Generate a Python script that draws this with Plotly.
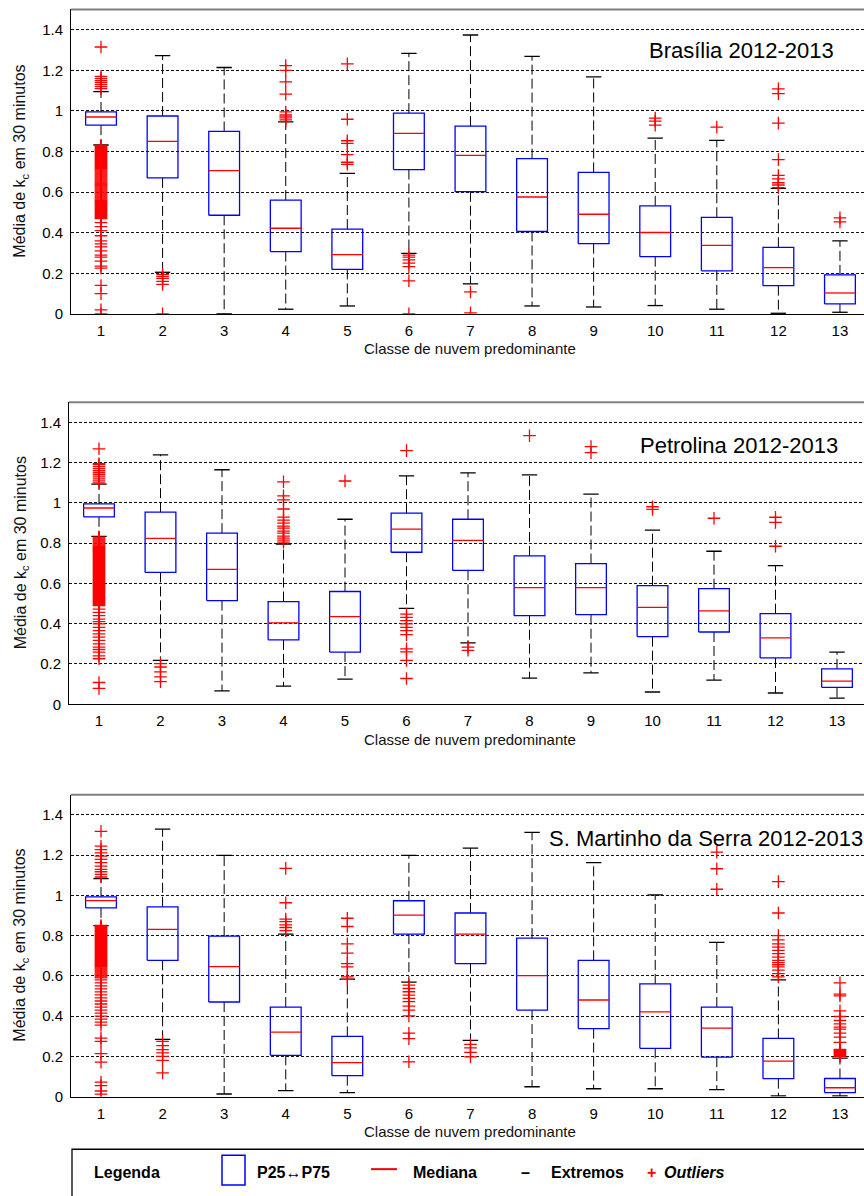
import plotly.graph_objects as go

classes = list(range(1, 13 + 1))
tick_labels = [str(c) for c in classes]
station_titles = ["Brasília 2012-2013", "Petrolina 2012-2013", "S. Martinho da Serra 2012-2013"]
x_title = "Classe de nuvem predominante"
y_title = "Média de k<sub>c</sub> em 30 minutos"

# ---------------- Brasília ----------------
bsb_lo = [0.832, 0.205, 0.0, 0.023, 0.039, 0.298, 0.148, 0.039, 0.034, 0.041, 0.023, 0.003, 0.008]
bsb_q1 = [0.930, 0.670, 0.486, 0.307, 0.219, 0.711, 0.602, 0.406, 0.346, 0.282, 0.212, 0.139, 0.049]
bsb_med = [0.970, 0.850, 0.706, 0.422, 0.292, 0.889, 0.781, 0.576, 0.491, 0.401, 0.338, 0.228, 0.103]
bsb_q3 = [0.995, 0.975, 0.899, 0.561, 0.418, 0.989, 0.925, 0.765, 0.697, 0.532, 0.476, 0.328, 0.192]
bsb_hi = [1.095, 1.272, 1.214, 0.946, 0.692, 1.284, 1.374, 1.269, 1.168, 0.866, 0.855, 0.618, 0.360]
# dense (solid-looking) band of low outliers in class 1
bsb_c1_band = [0.83, 0.825, 0.82, 0.815, 0.81, 0.805, 0.80, 0.795, 0.79, 0.785, 0.78, 0.775,
               0.77, 0.765, 0.76, 0.755, 0.75, 0.745, 0.74, 0.735, 0.73, 0.725, 0.72, 0.715,
               0.71, 0.705, 0.70, 0.695, 0.69, 0.685, 0.68, 0.675, 0.67, 0.665, 0.66, 0.655,
               0.65, 0.645, 0.64, 0.635, 0.63, 0.625, 0.62, 0.615, 0.61, 0.605, 0.60, 0.595,
               0.59, 0.585, 0.58, 0.575, 0.57, 0.565, 0.56, 0.555, 0.55, 0.545, 0.54, 0.535,
               0.53, 0.525, 0.52, 0.515, 0.51, 0.505, 0.50, 0.495, 0.49, 0.485, 0.48, 0.475, 0.47]
bsb_out = [
    [1.315, 1.17, 1.16, 1.15, 1.14, 1.13, 1.12, 1.11] + bsb_c1_band +
    [0.45, 0.43, 0.41, 0.385, 0.36, 0.345, 0.33, 0.31, 0.29, 0.28, 0.26, 0.235, 0.225,
     0.14, 0.10, 0.02, 0.0],
    [0.195, 0.185, 0.175, 0.16, 0.145, 0.0],
    [],
    [1.223, 1.20, 1.143, 1.083, 0.995, 0.98, 0.97, 0.96, 0.95],
    [1.232, 0.959, 0.853, 0.84, 0.785, 0.747, 0.737],
    [0.29, 0.28, 0.266, 0.25, 0.233, 0.163, 0.0],
    [0.108, 0.005],
    [],
    [],
    [0.965, 0.95, 0.93],
    [0.92],
    [1.109, 1.085, 0.94, 0.76, 0.682, 0.665, 0.646, 0.635, 0.622],
    [0.473, 0.453],
]

# ---------------- Petrolina ----------------
ptr_lo = [0.834, 0.218, 0.066, 0.090, 0.125, 0.476, 0.305, 0.130, 0.156, 0.061, 0.120, 0.056, 0.030]
ptr_q1 = [0.931, 0.655, 0.515, 0.320, 0.259, 0.755, 0.665, 0.440, 0.445, 0.336, 0.359, 0.230, 0.084]
ptr_med = [0.975, 0.824, 0.670, 0.404, 0.435, 0.870, 0.814, 0.579, 0.579, 0.481, 0.464, 0.330, 0.115]
ptr_q3 = [0.995, 0.954, 0.850, 0.510, 0.560, 0.949, 0.919, 0.737, 0.699, 0.589, 0.574, 0.450, 0.176]
ptr_hi = [1.093, 1.239, 1.165, 0.796, 0.919, 1.134, 1.149, 1.139, 1.044, 0.865, 0.760, 0.689, 0.259]
ptr_c1_band = [0.83, 0.825, 0.82, 0.815, 0.81, 0.805, 0.80, 0.795, 0.79, 0.785, 0.78, 0.775,
               0.77, 0.765, 0.76, 0.755, 0.75, 0.745, 0.74, 0.735, 0.73, 0.725, 0.72, 0.715,
               0.71, 0.705, 0.70, 0.695, 0.69, 0.685, 0.68, 0.675, 0.67, 0.665, 0.66, 0.655,
               0.65, 0.645, 0.64, 0.635, 0.63, 0.625, 0.62, 0.615, 0.61, 0.605, 0.60, 0.595,
               0.59, 0.585, 0.58, 0.575, 0.57, 0.565, 0.56, 0.555, 0.55, 0.545, 0.54, 0.535,
               0.53, 0.525, 0.52, 0.515, 0.51, 0.505, 0.50, 0.495, 0.49]
ptr_out = [
    [1.269, 1.195, 1.19, 1.18, 1.17, 1.16, 1.15, 1.14, 1.13, 1.12, 1.11, 1.10] + ptr_c1_band +
    [0.473, 0.456, 0.44, 0.423, 0.41, 0.399, 0.382, 0.366, 0.35, 0.333, 0.317, 0.30, 0.284,
     0.272, 0.259, 0.24, 0.226, 0.108, 0.079],
    [0.202, 0.185, 0.161, 0.136, 0.112],
    [],
    [1.105, 1.035, 1.015, 0.97, 0.93, 0.915, 0.90, 0.885, 0.875, 0.86, 0.85, 0.835, 0.825, 0.815, 0.805],
    [1.109],
    [1.26, 0.448, 0.432, 0.415, 0.399, 0.382, 0.366, 0.346, 0.275, 0.26, 0.218, 0.128],
    [0.284, 0.268],
    [1.334],
    [1.28, 1.25],
    [0.981, 0.968],
    [0.924],
    [0.929, 0.903, 0.785],
    [],
]

# ---------------- S. Martinho da Serra ----------------
sms_lo = [0.849, 0.284, 0.013, 0.030, 0.020, 0.569, 0.279, 0.049, 0.039, 0.039, 0.035, 0.003, 0.003]
sms_q1 = [0.938, 0.677, 0.470, 0.205, 0.104, 0.807, 0.661, 0.430, 0.338, 0.240, 0.196, 0.089, 0.020]
sms_med = [0.974, 0.831, 0.646, 0.320, 0.169, 0.902, 0.807, 0.601, 0.480, 0.421, 0.340, 0.176, 0.044]
sms_q3 = [0.992, 0.943, 0.797, 0.445, 0.299, 0.973, 0.912, 0.787, 0.677, 0.560, 0.445, 0.289, 0.090]
sms_hi = [1.083, 1.329, 1.198, 0.807, 0.583, 1.198, 1.234, 1.313, 1.162, 1.002, 0.766, 0.580, 0.191]
sms_c1_band = [0.85, 0.845, 0.84, 0.835, 0.83, 0.825, 0.82, 0.815, 0.81, 0.805, 0.80, 0.795,
               0.79, 0.785, 0.78, 0.775, 0.77, 0.765, 0.76, 0.755, 0.75, 0.745, 0.74, 0.735,
               0.73, 0.725, 0.72, 0.715, 0.71, 0.705, 0.70, 0.695, 0.69, 0.685, 0.68, 0.675,
               0.67, 0.665, 0.66, 0.655, 0.65, 0.645, 0.64, 0.635, 0.63, 0.625, 0.62, 0.615,
               0.61, 0.605, 0.60, 0.595, 0.59]
sms_out = [
    [1.318, 1.244, 1.227, 1.211, 1.195, 1.178, 1.162, 1.145, 1.129, 1.117, 1.104, 1.091] + sms_c1_band +
    [0.58, 0.565, 0.55, 0.535, 0.52, 0.505, 0.49, 0.475, 0.46, 0.445, 0.43, 0.415, 0.40,
     0.385, 0.37, 0.355, 0.291, 0.274, 0.214, 0.171, 0.072, 0.055, 0.028, 0.012],
    [0.274, 0.253, 0.233, 0.217, 0.20, 0.18, 0.118],
    [],
    [1.134, 0.963, 0.882, 0.869, 0.853, 0.84, 0.825],
    [0.886, 0.845, 0.759, 0.713, 0.661, 0.644, 0.595, 0.582],
    [0.554, 0.537, 0.521, 0.504, 0.488, 0.472, 0.45, 0.43, 0.401, 0.315, 0.288, 0.173],
    [0.26, 0.242, 0.22, 0.197],
    [],
    [],
    [],
    [1.214, 1.132, 1.03],
    [1.068, 0.912, 0.80, 0.779, 0.759, 0.743, 0.726, 0.71, 0.693, 0.677, 0.666, 0.655,
     0.644, 0.628, 0.611, 0.595],
    [0.565, 0.509, 0.50, 0.426, 0.398, 0.378, 0.361, 0.345, 0.335, 0.315, 0.296, 0.269,
     0.235, 0.23, 0.225, 0.22, 0.215, 0.21, 0.205, 0.20],
]

stations = [
    (bsb_lo, bsb_q1, bsb_med, bsb_q3, bsb_hi, bsb_out),
    (ptr_lo, ptr_q1, ptr_med, ptr_q3, ptr_hi, ptr_out),
    (sms_lo, sms_q1, sms_med, sms_q3, sms_hi, sms_out),
]

# ---------------- layout geometry (pixels) ----------------
W, H = 864, 1196
FONT = "Liberation Sans, Arial, sans-serif"
BW = 0.25   # half box width (class units)
CW = 0.125  # half cap width
# (left axis px, class-1 px, class spacing px, top px, bottom px)
panels = [
    (71, 101.0, 61.58, 9.5, 316),
    (69, 99.0, 61.5, 405, 709),
    (71, 101.0, 61.58, 800, 1104),
]
title_pos = [(741, 51), (739, 449), (706, 844)]
xtitle_y = [351, 744, 1139]


def px(x):
    return x / W


def py(y):
    return 1 - y / H


fig = go.Figure()
shapes = []
annotations = []

for k, ((lo, q1, med, q3, hi, outs), (xl, c1, sp, top, bot)) in enumerate(zip(stations, panels), start=1):
    xa = "x" if k == 1 else f"x{k}"
    ya = "y" if k == 1 else f"y{k}"
    wx, wy, cx, cy, bx, by, mx, my, ox, oy = [], [], [], [], [], [], [], [], [], []
    for i, c in enumerate(classes):
        wx += [c, c, None, c, c, None]
        wy += [q3[i], hi[i], None, q1[i], lo[i], None]
        cx += [c - CW, c + CW, None, c - CW, c + CW, None]
        cy += [hi[i], hi[i], None, lo[i], lo[i], None]
        bx += [c - BW, c + BW, c + BW, c - BW, c - BW, None]
        by += [q1[i], q1[i], q3[i], q3[i], q1[i], None]
        mx += [c - BW, c + BW, None]
        my += [med[i], med[i], None]
        ox += [c] * len(outs[i])
        oy += outs[i]
    fig.add_trace(go.Scatter(x=wx, y=wy, mode="lines", xaxis=xa, yaxis=ya,
                             line=dict(color="black", width=1, dash="10px,4px"), hoverinfo="skip"))
    fig.add_trace(go.Scatter(x=cx, y=cy, mode="lines", xaxis=xa, yaxis=ya,
                             line=dict(color="black", width=1.3), hoverinfo="skip"))
    fig.add_trace(go.Scatter(x=bx, y=by, mode="lines", xaxis=xa, yaxis=ya,
                             line=dict(color="#0000ff", width=1.3), hoverinfo="skip"))
    fig.add_trace(go.Scatter(x=mx, y=my, mode="lines", xaxis=xa, yaxis=ya,
                             line=dict(color="#ff0000", width=1.3), hoverinfo="skip"))
    fig.add_trace(go.Scatter(x=ox, y=oy, mode="markers", xaxis=xa, yaxis=ya,
                             marker=dict(symbol="cross-thin", size=9,
                                         line=dict(color="#ff0000", width=1.3)),
                             hoverinfo="skip"))

    x0 = 1 - (c1 - xl) / sp
    x1 = 1 + (W - c1) / sp
    axis_common = dict(showline=True, linecolor="black", linewidth=1, ticks="",
                       tickfont=dict(family=FONT, size=15, color="black"), zeroline=False)
    fig.layout[f"xaxis{k if k > 1 else ''}"] = dict(
        domain=[px(xl), 1], range=[x0, x1], anchor=ya, tickmode="array",
        tickvals=classes, ticktext=tick_labels, showgrid=False, ticklabelstandoff=3, **axis_common)
    fig.layout[f"yaxis{k if k > 1 else ''}"] = dict(
        domain=[py(bot), py(top)], range=[0, 1.5], anchor=xa, tickmode="array",
        tickvals=[0, 0.2, 0.4, 0.6, 0.8, 1.0, 1.2, 1.4],
        ticktext=["0", "0.2", "0.4", "0.6", "0.8", "1", "1.2", "1.4"],
        showgrid=True, gridcolor="#111111", gridwidth=1, griddash="3px,2px",
        ticklabelstandoff=4, **axis_common)
    # gray top border
    shapes.append(dict(type="line", xref="paper", yref="paper", x0=px(xl), x1=1,
                       y0=py(top), y1=py(top), line=dict(color="#7f7f7f", width=2)))
    tx, ty = title_pos[k - 1]
    annotations.append(dict(text=station_titles[k - 1], xref="paper", yref="paper",
                            x=px(tx), y=py(ty), xanchor="center", yanchor="middle", showarrow=False,
                            font=dict(family=FONT, size=22, color="black")))
    annotations.append(dict(text=x_title, xref="paper", yref="paper", x=px(470), y=py(xtitle_y[k - 1]),
                            xanchor="center", yanchor="middle", showarrow=False,
                            font=dict(family=FONT, size=15, color="#111111")))
    annotations.append(dict(text=y_title, xref="paper", yref="paper", x=px(21), y=py((top + bot) / 2),
                            xanchor="center", yanchor="middle", textangle=-90, showarrow=False,
                            font=dict(family=FONT, size=16, color="#111111")))

# ---------------- legend box ----------------
shapes.append(dict(type="rect", xref="paper", yref="paper", x0=px(72), x1=1.05, y0=py(1157), y1=-0.05,
                   line=dict(color="black", width=1.3), fillcolor="rgba(0,0,0,0)"))
shapes.append(dict(type="rect", xref="paper", yref="paper", x0=px(222), x1=px(245), y0=py(1193), y1=py(1163),
                   line=dict(color="#0000ff", width=1.5)))
shapes.append(dict(type="line", xref="paper", yref="paper", x0=px(371), x1=px(397), y0=py(1177), y1=py(1177),
                   line=dict(color="#ff0000", width=2)))
leg_items = [
    ("<b>Legenda</b>", 92, "left", "black"),
    ("<b>P25↔P75</b>", 255, "left", "black"),
    ("<b>Mediana</b>", 411, "left", "black"),
    ("<b>–</b>", 525, "center", "black"),
    ("<b>Extremos</b>", 549, "left", "black"),
    ("<b>+</b>", 651, "center", "#ff0000"),
    ("<b><i>Outliers</i></b>", 662, "left", "black"),
]
for txt, x, anc, col in leg_items:
    annotations.append(dict(text=txt, xref="paper", yref="paper", x=px(x), y=py(1180),
                            xanchor=anc, yanchor="middle", showarrow=False,
                            font=dict(family=FONT, size=16, color=col)))

fig.update_layout(width=W, height=H, margin=dict(l=0, r=0, t=0, b=0),
                  paper_bgcolor="white", plot_bgcolor="white", showlegend=False,
                  shapes=shapes, annotations=annotations)

fig.write_html("out.html")
